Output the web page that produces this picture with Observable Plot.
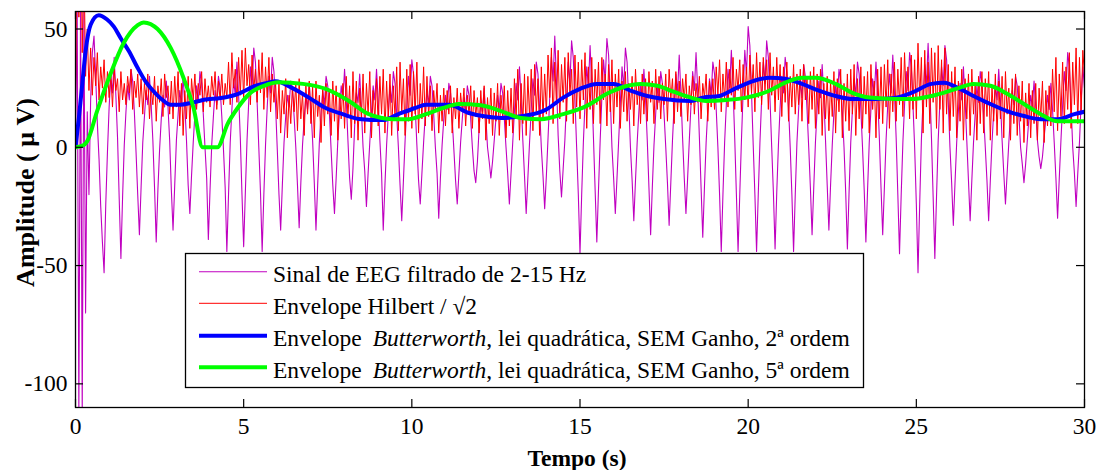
<!DOCTYPE html>
<html><head><meta charset="utf-8">
<script src="https://cdn.jsdelivr.net/npm/d3@7"></script>
<script src="https://cdn.jsdelivr.net/npm/@observablehq/plot@0.6"></script>
<style>
html,body{margin:0;padding:0;background:#fff;}
#wrap{position:relative;width:1101px;height:470px;}
#wrap svg text{font-family:'Liberation Serif','Times New Roman',Times,serif;}
#legend{position:absolute;left:0;top:0;pointer-events:none;}
</style></head><body><div id="wrap"></div>
<script>
// ---------- data ----------
const xTicks = [0, 5, 10, 15, 20, 25, 30];
const yTicks = [-100, -50, 0, 50];
const xLabel = "Tempo (s)";
const yLabel = "Amplitude ( \u03BC V)";
const sampleStep = 0.05; // s, sampling grid of the two noisy traces

// EEG filtered 2-15 Hz (µV), one row per oscillation, starting at each trough
const eegValues = [
  0, 60, -112, 60, -112, 58, -70, 15, -20, 20, 40, 47, 30, 10, -5, -25, -40,
  -53, -24, -2, 17, 30, 23, 38, 22, 4, -22,
  -47, -21, 1, 15, 26, 20, 33, 28, 15, -2, -20,
  -37, -17, 2, 13, 24, 18, 30, 18, 3, -17,
  -40, -18, -1, 12, 22, 17, 28, 17, 3, -18,
  -35, -16, 3, 14, 24, 18, 30, 18, 3, -16,
  -28, -12, 2, 14, 26, 19, 32, 27, 14, 0, -13,
  -39, -18, 1, 13, 24, 18, 30, 25, 13, -1, -17,
  -44, -20, 2, 16, 29, 22, 36, 22, 4, -20,
  -42, -19, 3, 19, 34, 25, 42, 36, 19, 0, -19,
  -44, -20, 1, 17, 30, 23, 38, 32, 17, -1, -20,
  -35, -16, 2, 13, 22, 17, 28, 24, 13, 0, -16,
  -34, -15, 1, 12, 22, 16, 27, 16, 3, -15,
  -35, -16, 2, 14, 24, 18, 30, 26, 14, -1, -16,
  -28, -13, 3, 15, 26, 20, 33, 20, 3, -13,
  -22, -9, 9, 23, 19, 31, 16, 0, -10,
  -25, -11, 2, 15, 26, 20, 33, 20, 3, -11,
  -35, -16, 1, 14, 26, 19, 32, 27, 14, 0, -16,
  -31, -14, 3, 17, 30, 22, 37, 31, 17, 1, -14,
  -24, -11, 2, 14, 24, 18, 30, 26, 14, 0, -11,
  -30, -13, 1, 12, 22, 16, 27, 23, 12, -1, -14,
  -24, -11, 2, 12, 21, 16, 26, 22, 12, 0, -10,
  -15, -6, 8, 19, 15, 25, 13, 0, -6,
  -13, -6, 3, 12, 22, 16, 27, 23, 12, 0, -11,
  -24, -11, 2, 15, 27, 20, 34, 20, 3, -12,
  -28, -13, 2, 16, 29, 22, 36, 31, 16, 0, -12,
  -26, -12, 4, 21, 38, 28, 47, 28, 5, -10,
  -21, -9, 3, 20, 36, 27, 45, 38, 20, 0, -20,
  -45, -20, 2, 19, 34, 26, 43, 26, 4, -18,
  -40, -18, 3, 21, 37, 28, 46, 39, 21, 0, -13,
  -28, -13, 3, 19, 34, 25, 42, 36, 19, 0, -14,
  -31, -14, 2, 15, 26, 20, 33, 20, 3, -17,
  -37, -17, 1, 14, 26, 19, 32, 27, 14, 0, -15,
  -33, -15, 3, 18, 31, 23, 39, 23, 4, -13,
  -28, -13, 3, 18, 32, 24, 40, 24, 4, -17,
  -38, -17, 2, 16, 29, 22, 36, 31, 16, 0, -20,
  -44, -20, 2, 18, 33, 25, 41, 25, 4, -20,
  -44, -20, 3, 23, 41, 31, 51, 43, 23, 1, -20,
  -44, -20, 2, 20, 36, 27, 45, 38, 20, 0, -19,
  -43, -19, 1, 17, 30, 23, 38, 32, 17, 0, -20,
  -44, -20, 2, 16, 28, 21, 35, 30, 16, 0, -17,
  -37, -17, 2, 16, 28, 21, 35, 21, 3, -16,
  -35, -16, 1, 15, 26, 20, 33, 28, 15, 0, -19,
  -43, -19, 2, 16, 29, 22, 36, 31, 16, 0, -18,
  -40, -18, 2, 16, 29, 22, 36, 22, 4, -17,
  -37, -17, 3, 18, 31, 23, 39, 23, 4, -20,
  -45, -20, 2, 18, 32, 24, 40, 34, 18, 0, -24,
  -53, -24, 3, 20, 35, 26, 44, 26, 4, -21,
  -47, -21, 3, 19, 34, 26, 43, 37, 19, 0, -15,
  -33, -15, 2, 15, 27, 20, 34, 20, 3, -14,
  -31, -14, 2, 14, 26, 19, 32, 27, 14, 0, -14,
  -31, -14, 2, 15, 26, 20, 33, 20, 3, -11,
  -24, -11, 2, 14, 24, 18, 30, 26, 14, 0, -7,
  -15, -7, 3, 13, 22, 17, 28, 17, 3, -4,
  -9, -4, 4, 12, 22, 16, 27, 16, 2, -13,
  -30, -13, 3, 18, 32, 24, 40, 34, 18, 0, -11,
  -25, -11, 2, 19, 34, 25
];

// Hilbert envelope / sqrt(2) (µV), one row per 0.5 s
const hilbertValues = [
  20, 95, 55, 110, 40, 80, 30, 50, 24, 42,
  22, 38, 26, 40, 20, 34, 25, 37, 19, 32,
  21, 31, 17, 33, 24, 29, 15, 32, 20, 27,
  18, 30, 23, 33, 16, 28, 21, 31, 17, 29,
  14, 27, 20, 31, 12, 25, 18, 30, 11, 26,
  19, 29, 13, 31, 21, 26, 14, 28, 12, 30,
  17, 32, 9, 27, 5, 24, 12, 30, 8, 29,
  20, 31, 16, 27, 22, 32, 15, 29, 19, 26,
  17, 30, 22, 32, 16, 28, 20, 31, 18, 27,
  21, 36, 18, 40, 25, 33, 19, 38, 22, 41,
  20, 42, 26, 35, 18, 39, 24, 33, 19, 37,
  23, 40, 16, 34, 21, 38, 15, 31, 19, 27,
  12, 28, 6, 24, 14, 29, 4, 22, 10, 26,
  15, 27, 7, 29, 12, 23, 5, 26, 14, 28,
  10, 26, 4, 28, 13, 22, 2, 25, 9, 27,
  14, 24, 5, 28, 11, 26, 3, 23, 12, 27,
  8, 30, 13, 26, 4, 32, 10, 28, 3, 25,
  12, 31, 6, 27, 14, 32, 4, 24, 11, 29,
  9, 30, 14, 33, 6, 28, 12, 31, 5, 26,
  13, 34, 7, 36, 15, 29, 5, 33, 11, 35,
  8, 32, 14, 36, 6, 27, 12, 34, 9, 30,
  13, 26, 7, 24, 15, 27, 6, 22, 11, 25,
  9, 24, 14, 26, 6, 21, 12, 25, 8, 23,
  15, 25, 9, 22, 14, 26, 8, 24, 13, 21,
  6, 24, 12, 26, 3, 21, 10, 25, 5, 23,
  11, 27, 5, 22, 13, 26, 4, 24, 9, 25,
  6, 29, 12, 33, 3, 27, 10, 31, 5, 30,
  13, 33, 7, 35, 15, 29, 5, 34, 12, 31,
  14, 39, 21, 42, 10, 36, 18, 41, 12, 35,
  19, 38, 11, 40, 22, 33, 10, 39, 17, 36,
  12, 37, 20, 40, 8, 34, 16, 38, 10, 33,
  18, 36, 10, 38, 20, 31, 9, 35, 15, 37,
  10, 31, 17, 33, 8, 28, 15, 32, 11, 27,
  16, 30, 9, 33, 18, 27, 10, 31, 14, 29,
  11, 32, 19, 28, 10, 33, 16, 30, 12, 27,
  18, 31, 11, 33, 20, 29, 10, 32, 15, 28,
  13, 29, 20, 31, 11, 26, 18, 30, 14, 27,
  19, 30, 12, 27, 21, 31, 11, 28, 17, 29,
  16, 34, 22, 37, 15, 31, 20, 36, 17, 33,
  22, 38, 16, 33, 24, 37, 15, 35, 20, 34,
  17, 39, 23, 35, 15, 40, 21, 36, 18, 38,
  24, 37, 16, 40, 22, 34, 15, 38, 20, 35,
  13, 34, 19, 36, 11, 30, 17, 35, 14, 31,
  18, 33, 11, 35, 20, 29, 10, 32, 16, 34,
  8, 31, 14, 33, 5, 27, 12, 30, 7, 28,
  13, 32, 6, 29, 15, 33, 4, 27, 11, 31,
  7, 33, 14, 35, 5, 29, 12, 34, 8, 30,
  14, 32, 6, 35, 16, 28, 4, 33, 12, 34,
  10, 35, 17, 37, 8, 31, 15, 36, 11, 33,
  18, 38, 13, 40, 20, 34, 12, 39, 16, 37,
  12, 44, 20, 38, 6, 41, 17, 36, 10, 42,
  19, 40, 8, 43, 16, 37, 6, 42, 14, 35,
  7, 32, 13, 34, 4, 28, 11, 33, 3, 29,
  12, 31, 5, 33, 14, 27, 3, 30, 10, 32,
  6, 29, 13, 32, 3, 26, 11, 31, 5, 28,
  12, 30, 4, 32, 14, 25, 3, 29, 10, 31,
  5, 26, 11, 28, 2, 23, 9, 27, 4, 24,
  10, 27, 3, 25, 12, 28, 2, 24, 9, 26,
  9, 33, 15, 38, 7, 31, 13, 36, 10, 34,
  16, 40, 8, 36, 18, 42, 10, 38, 14, 41,
  30
];

// Butterworth envelope, 2nd order
const blueT = [0, 0.1, 0.2, 0.3, 0.45, 0.69, 0.94, 1.14, 1.34, 1.59, 1.85, 2.08, 2.32, 2.58, 2.83, 3.12, 3.42, 3.82, 4.32, 4.82, 5.32, 5.7, 5.95, 6.45, 6.94, 7.44, 7.94, 8.43, 9.14, 9.6, 10.1, 10.42, 11.1, 11.7, 12.2, 12.65, 13.3, 14.0, 14.5, 15.0, 15.5, 16.0, 16.5, 17.0, 17.5, 18.3, 18.65, 19.14, 19.64, 20.15, 20.63, 21.1, 21.6, 22.1, 22.6, 23.1, 23.8, 24.4, 24.85, 25.45, 25.83, 26.25, 26.7, 27.2, 27.7, 28.2, 28.7, 29.2, 29.7, 30];
const blueV = [0, 12.4, 26.5, 40.6, 51.8, 55.8, 54, 51, 46.2, 40.6, 33.5, 27.9, 23.7, 20.1, 18, 18, 18.7, 20.1, 20.8, 22.5, 25.8, 27.2, 27.9, 25, 21, 16.6, 14, 12, 11.5, 14, 16.6, 18, 18, 14.5, 13, 12.4, 13.2, 16, 21, 24.7, 26.8, 26.8, 24, 21.7, 20.4, 19.6, 21, 21.7, 25, 28, 29.4, 29, 26.8, 24, 21.7, 20.4, 20.4, 21, 23, 26.8, 27.3, 25, 21.7, 18.3, 15.3, 13.2, 11.9, 11.9, 14, 15];

// Butterworth envelope, 5th order
const greenT = [0, 0.25, 0.35, 0.64, 1.04, 1.43, 1.85, 2.03, 2.44, 2.83, 3.21, 3.51, 3.78, 4.22, 4.52, 4.82, 5.2, 5.6, 6.04, 6.76, 7.44, 8.13, 8.72, 9.43, 9.9, 10.42, 10.92, 11.4, 12.05, 12.65, 13.24, 13.84, 14.5, 15.2, 15.8, 16.3, 16.8, 17.3, 17.8, 18.3, 18.75, 19.35, 19.94, 20.63, 21.1, 21.6, 22.0, 22.6, 23.1, 23.6, 24.4, 24.85, 25.45, 26.25, 26.7, 27.2, 27.7, 28.2, 28.7, 29.2, 29.9, 30];
const greenV = [0, 1, 2.6, 15.2, 31, 44, 51.6, 52.8, 50, 42, 29.4, 16.6, 0, 0, 9.8, 16.6, 23, 26, 27.5, 26.8, 24.7, 19.6, 14, 11.9, 11.9, 14, 16.6, 18.3, 17.8, 15.3, 12.4, 11.9, 14, 17.5, 22.6, 25.6, 26.8, 26, 23.4, 21, 19.6, 20, 21, 23.9, 27.3, 29.4, 29.4, 26.8, 23, 21, 20.4, 20.4, 21.7, 25, 26.8, 26, 22.6, 18.3, 14, 11, 11, 11];

const seriesNames = [
  "Sinal de EEG filtrado de 2-15 Hz",
  "Envelope Hilbert / \u221A2",
  "2\u00AA ordem",
  "5\u00AA ordem"
];
const seriesColors = ["#c000c0", "#ff0000", "#0000ff", "#00ff00"];

// ---------- tables for the library ----------
const eeg = eegValues.map((v, i) => ({t: i * sampleStep, v}));
const hilbert = hilbertValues.map((v, i) => ({t: i * sampleStep, v}));
const blue = blueT.map((t, i) => ({t, v: blueV[i]}));
const green = greenT.map((t, i) => ({t, v: greenV[i]}));

const W = 1101, H = 470;
const mL = 75, mR = 17, mT = 11, mB = 63;
const frameW = W - mL - mR, frameH = H - mT - mB, tick = 8;
const font = "'Liberation Serif', 'Times New Roman', Times, serif";
const fs = 23.5;

const chart = Plot.plot({
  width: W, height: H,
  marginLeft: mL, marginRight: mR, marginTop: mT, marginBottom: mB,
  x: {domain: [0, 30], label: null},
  y: {domain: [-110, 57.4], label: null},
  style: {fontFamily: font, fontSize: fs + "px", color: "#000", background: "#fff", overflow: "visible"},
  marks: [
    Plot.line(eeg, {x: "t", y: "v", stroke: seriesColors[0], strokeWidth: 1.1, clip: true}),
    Plot.line(hilbert, {x: "t", y: "v", stroke: seriesColors[1], strokeWidth: 1, clip: true}),
    Plot.line(blue, {x: "t", y: "v", stroke: seriesColors[2], strokeWidth: 4, curve: "monotone-x", clip: true}),
    Plot.line(green, {x: "t", y: "v", stroke: seriesColors[3], strokeWidth: 4, curve: "monotone-x", clip: true}),
    Plot.frame({stroke: "#000", strokeWidth: 1.3}),
    // inward ticks on all four sides
    Plot.ruleX(xTicks, {x: d => d, insetTop: frameH - tick, stroke: "#000", strokeWidth: 1.2}),
    Plot.ruleX(xTicks, {x: d => d, insetBottom: frameH - tick, stroke: "#000", strokeWidth: 1.2}),
    Plot.ruleY(yTicks, {y: d => d, insetRight: frameW - tick, stroke: "#000", strokeWidth: 1.2}),
    Plot.ruleY(yTicks, {y: d => d, insetLeft: frameW - tick, stroke: "#000", strokeWidth: 1.2}),
    Plot.axisX({anchor: "bottom", ticks: xTicks, tickSize: 0, tickPadding: 10, tickFormat: d => String(d), label: null, fontFamily: font, fontSize: fs}),
    Plot.axisY({anchor: "left", ticks: yTicks, tickSize: 0, tickPadding: 8, tickFormat: d => String(d), label: null, fontFamily: font, fontSize: fs}),
    Plot.text([xLabel], {frameAnchor: "bottom", textAnchor: "middle", lineAnchor: "middle", dx: -3, dy: 51, fontWeight: "bold", fontSize: fs, fontFamily: font}),
    Plot.text([yLabel], {frameAnchor: "left", textAnchor: "middle", lineAnchor: "middle", rotate: -90, dx: -50, dy: -17, fontWeight: "bold", fontSize: 26, fontFamily: font})
  ]
});

const wrap = document.getElementById("wrap");
wrap.appendChild(chart);

// ---------- legend (overlay inside the axes) ----------
const lg = {x: 185.5, y: 253.5, w: 678, h: 134};
const rowsY = [271.7, 303.3, 335.7, 367.3];
const widths = [1.1, 1, 4, 4];
const ns = "http://www.w3.org/2000/svg";
const svg = document.createElementNS(ns, "svg");
svg.setAttribute("id", "legend");
svg.setAttribute("width", W); svg.setAttribute("height", H);
svg.style.fontFamily = font;
svg.style.fontSize = fs + "px";
let inner = `<rect x="${lg.x}" y="${lg.y}" width="${lg.w}" height="${lg.h}" fill="#fff" stroke="#000" stroke-width="1.3"/>`;
rowsY.forEach((y, i) => {
  inner += `<line x1="199" x2="267" y1="${y}" y2="${y}" stroke="${seriesColors[i]}" stroke-width="${widths[i]}"/>`;
});
const tx = 273, base = 10.6;
inner += `<text x="${tx}" y="${rowsY[0] + base}" fill="#000">${seriesNames[0]}</text>`;
inner += `<text x="${tx}" y="${rowsY[1] + base}" fill="#000">${seriesNames[1]}</text>`;
inner += `<text x="${tx}" y="${rowsY[2] + base}" fill="#000">Envelope <tspan dx="5" font-style="italic">Butterworth</tspan>, lei quadrática, SEM Ganho, ${seriesNames[2]}</text>`;
inner += `<text x="${tx}" y="${rowsY[3] + base}" fill="#000">Envelope <tspan dx="5" font-style="italic">Butterworth</tspan>, lei quadrática, SEM Ganho, ${seriesNames[3]}</text>`;
svg.innerHTML = inner;
wrap.appendChild(svg);
</script></body></html>
